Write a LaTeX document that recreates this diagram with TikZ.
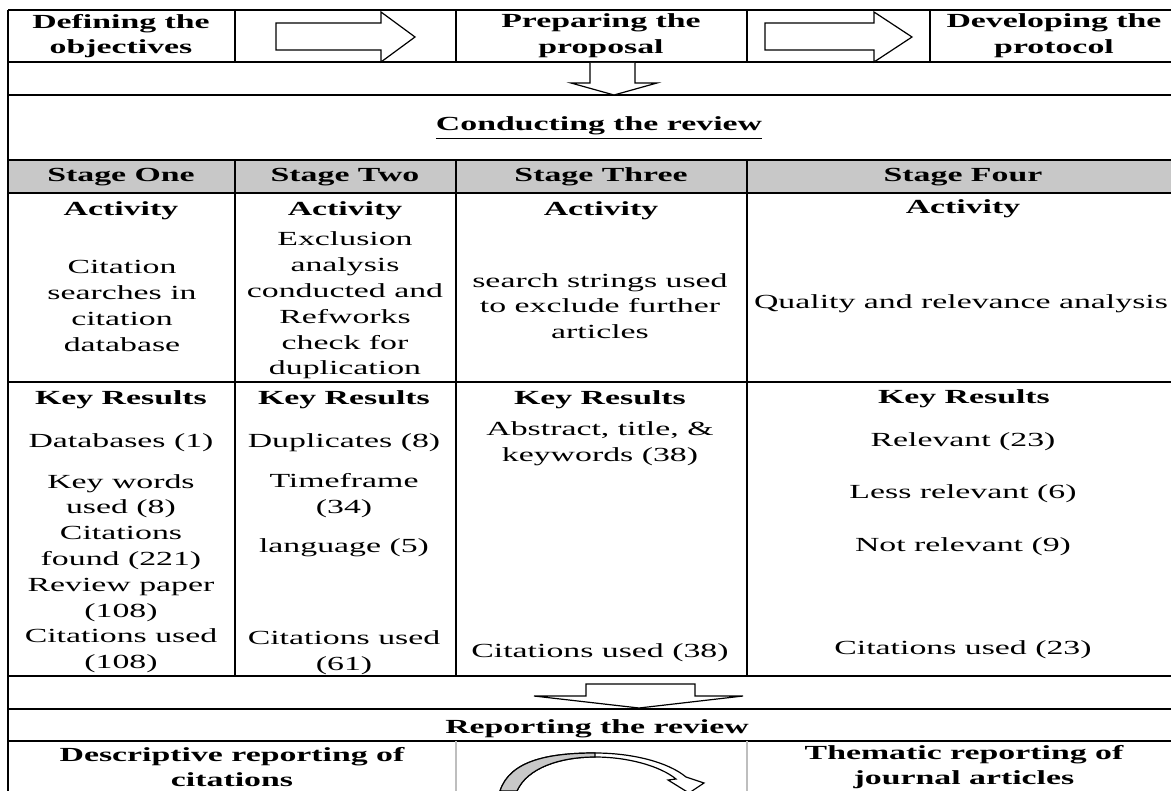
\documentclass[tikz,border=0pt]{standalone}
\usepackage{fontspec}
\setmainfont{Liberation Serif}[FakeStretch=1.69]
\definecolor{headgray}{RGB}{200,200,200}
\definecolor{lightline}{RGB}{190,190,190}
\definecolor{ribbongray}{RGB}{200,200,200}
\begin{document}
\begin{tikzpicture}[x=0.5pt,y=-0.5pt,
  grid/.style={line width=1.3pt,draw=black},
  txt/.style={inner sep=0pt,align=center,font=\fontsize{10}{12.9}\selectfont},
  btxt/.style={inner sep=0pt,align=center,font=\fontsize{10}{12.9}\selectfont\bfseries},
  blockarrow/.style={draw=black,line width=0.6pt,fill=white,line join=miter}]
\useasboundingbox (0,0) rectangle (1171,791);
\clip (0,0) rectangle (1171,791);
% header fill
\fill[headgray] (8,160) rectangle (1180,193);
% grid
\foreach \y in {10,62,95,160,193,382,676,709,741} \draw[grid] (8,\y) -- (1180,\y);
\draw[grid] (8,10) -- (8,795);
\foreach \x in {235,456,747,930} \draw[grid] (\x,10) -- (\x,62);
\foreach \x in {235,456,747} \draw[grid] (\x,160) -- (\x,676);
\foreach \x in {456,747} \draw[line width=1.3pt,draw=lightline] (\x,741) -- (\x,795);
% block arrows
\draw[blockarrow] (276,23) -- (381,23) -- (381,12) -- (415,37) -- (381,62) -- (381,50) -- (276,50) -- cycle;
\draw[blockarrow] (765,23) -- (874,23) -- (874,12) -- (912,37) -- (874,62) -- (874,50) -- (765,50) -- cycle;
\draw[blockarrow] (590,63) -- (590,83) -- (571,83) -- (614,95) -- (657,83) -- (635,83) -- (635,63);
\draw[blockarrow] (586,684) -- (695,684) -- (695,696) -- (743,696) -- (639,708) -- (534,696) -- (586,696) -- cycle;
% curved arrow
\draw[line width=0.6pt,fill=white,line join=miter]
  (517,791) .. controls (527,768) and (560,757) .. (595,757)
  .. controls (628,757) and (660,766) .. (676,779)
  -- (668,780) -- (689,793) -- (704,783) -- (686,777)
  .. controls (668,762) and (632,753) .. (595,753)
  .. controls (550,753) and (510,760) .. (500,791) -- cycle;
\draw[line width=0.6pt,fill=ribbongray]
  (500,791) .. controls (510,760) and (550,753) .. (595,753)
  -- (595,757) .. controls (560,757) and (527,768) .. (517,791) -- cycle;
% top row
\node[btxt] (def) at (121,36) {Defining the\\objectives};
\node[btxt] (prep) at (601,36) {Preparing the\\proposal};
\node[btxt] (dev) at (1054,36) {Developing the\\protocol};
\node[btxt] (cond) at (599,128) {\underline{Conducting the review}};
% stage headers
\node[btxt] (s1) at (121,177) {Stage One};
\node[btxt] (s2) at (345,177) {Stage Two};
\node[btxt] (s3) at (601,177) {Stage Three};
\node[btxt] (s4) at (963,177) {Stage Four};
% activity
\node[btxt] (a1) at (121,211) {Activity};
\node[btxt] (a2) at (345,211) {Activity};
\node[btxt] (a3) at (601,211) {Activity};
\node[btxt] (a4) at (963,209) {Activity};
\node[txt] (a1t) at (122,306) {Citation\\searches in\\citation\\database};
\node[txt] (a2t) at (345,305.5) {Exclusion\\analysis\\conducted and\\Refworks\\check for\\duplication};
\node[txt] (a3t) at (600,306) {search strings used\\to exclude further\\articles};
\node[txt] (a4t) at (961,304) {Quality and relevance analysis};
% key results
\node[btxt] (k1) at (121,400) {Key Results};
\node[btxt] (k2) at (344,400) {Key Results};
\node[btxt] (k3) at (600,400) {Key Results};
\node[btxt] (k4) at (964,399) {Key Results};
\node[txt] (k1a) at (121,443) {Databases (1)};
\node[txt] (k1b) at (121,573.5) {Key words\\used (8)\\Citations\\found (221)\\Review paper\\(108)\\Citations used\\(108)};
\node[txt] (k2a) at (344,443) {Duplicates (8)};
\node[txt] (k2b) at (344,495.5) {Timeframe\\(34)};
\node[txt] (k2c) at (344,548) {language (5)};
\node[txt] (k2d) at (344,652.5) {Citations used\\(61)};
\node[txt] (k3a) at (600,444) {Abstract, title, \&\\keywords (38)};
\node[txt] (k3b) at (600,653) {Citations used (38)};
\node[txt] (k4a) at (963,442) {Relevant (23)};
\node[txt] (k4b) at (963,494) {Less relevant (6)};
\node[txt] (k4c) at (963,547) {Not relevant (9)};
\node[txt] (k4d) at (963,650) {Citations used (23)};
% reporting
\node[btxt] (rep) at (597,729) {Reporting the review};
\node[btxt] (desc) at (232,767) {Descriptive reporting of\\citations};
\node[btxt] (them) at (964,767) {Thematic reporting of\\journal articles};
\end{tikzpicture}
\end{document}
